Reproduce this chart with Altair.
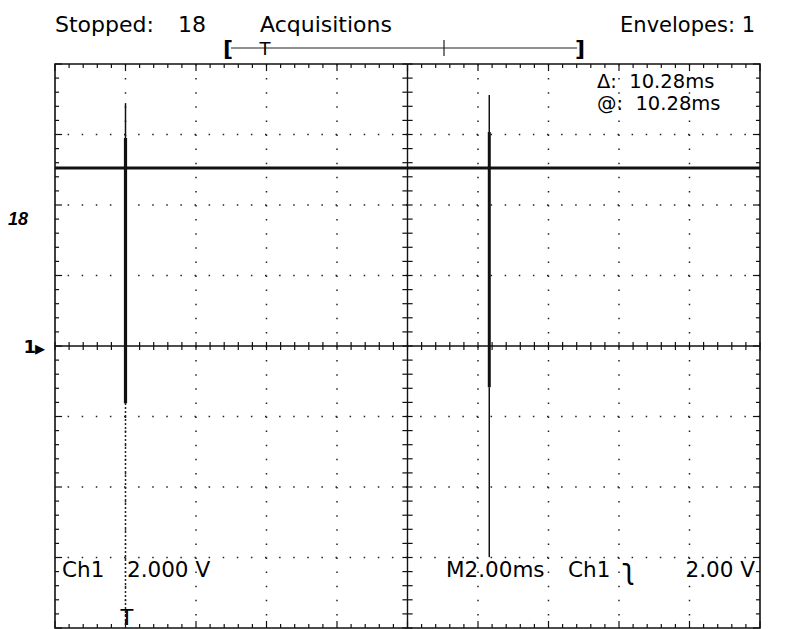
import altair as alt
import pandas as pd

# ---------------- data ----------------
# time axis: 2 ms/div, 10 divisions ; voltage axis: 2 V/div, 8 divisions
x_major = [2, 4, 6, 8, 12, 14, 16, 18]            # dotted vertical graticule (ms)
y_major = [-6, -4, -2, 2, 4, 6]                   # dotted horizontal graticule (V)
x_sub = [round(i * 0.4, 2) for i in range(51)]    # 0.2 div sub-ticks (ms)
y_sub = [round(-8 + i * 0.4, 2) for i in range(41)]  # 0.2 div sub-ticks (V)

trace_t = [0.0, 20.0]
trace_v = [5.05, 5.05]

seg_t = [2.0, 2.0, 12.32, 12.32, 12.32]
seg_top = [6.89, 5.9, 7.12, 6.07, -1.17]
seg_bot = [5.9, -1.62, 6.07, -1.17, -5.99]
seg_w = [1.5, 3.2, 1.5, 3.0, 1.5]

env_t = [2.0]
env_top = [-1.62]
env_bot = [-8.0]

NB = "\u00a0"
readout_lines = ["Δ:" + NB + NB + "10.28ms", "@:" + NB + NB + "10.28ms"]

W, H = 705, 564
xs = alt.Scale(domain=[0, 20], nice=False, zero=False)
ys = alt.Scale(domain=[-8, 8], nice=False, zero=False)

def X(f):
    return alt.X(f, type="quantitative", scale=xs, axis=None)

def Y(f):
    return alt.Y(f, type="quantitative", scale=ys, axis=None)

# dotted graticule
gx = alt.Chart(pd.DataFrame({"x": x_major})).mark_rule(
    color="#222", strokeWidth=1.5, strokeDash=[1.5, 12.6]).encode(x=X("x"))
gy = alt.Chart(pd.DataFrame({"y": y_major})).mark_rule(
    color="#222", strokeWidth=1.5, strokeDash=[1.5, 12.6]).encode(y=Y("y"))

# centre cross
cx = alt.Chart(pd.DataFrame({"x": [10]})).mark_rule(color="#111", strokeWidth=1.4).encode(x=X("x"))
cy = alt.Chart(pd.DataFrame({"y": [0]})).mark_rule(color="#111", strokeWidth=1.6).encode(y=Y("y"))

# sub-ticks (lengths in data units: 35.25 px per unit on both axes)
def is_major(v):
    return abs(v / 2 - round(v / 2)) < 1e-6

xl = [0.2 if is_major(v) else 0.115 for v in x_sub]
yl = [0.2 if is_major(v) else 0.115 for v in y_sub]

df_xt = pd.DataFrame({
    "x": x_sub,
    "c1": [-0.115] * len(x_sub), "c2": [0.115] * len(x_sub),
    "t1": [8.0] * len(x_sub), "t2": [8.0 - l for l in xl],
    "b1": [-8.0] * len(x_sub), "b2": [-8.0 + l for l in xl],
})
df_yt = pd.DataFrame({
    "y": y_sub,
    "c1": [10 - 0.145] * len(y_sub), "c2": [10 + 0.145] * len(y_sub),
    "l1": [0.0] * len(y_sub), "l2": [l for l in yl],
    "r1": [20.0] * len(y_sub), "r2": [20.0 - l for l in yl],
})

def vt(a, b):
    return alt.Chart(df_xt).mark_rule(color="#111", strokeWidth=1.2).encode(x=X("x"), y=Y(a), y2=b)

def ht(a, b):
    return alt.Chart(df_yt).mark_rule(color="#111", strokeWidth=1.2).encode(y=Y("y"), x=X(a), x2=b)

ticks = [vt("c1", "c2"), vt("t1", "t2"), vt("b1", "b2"), ht("c1", "c2"), ht("l1", "l2"), ht("r1", "r2")]

# trace
base = alt.Chart(pd.DataFrame({"t": trace_t, "v": trace_v})).mark_line(
    color="#111", strokeWidth=3.2).encode(x=X("t"), y=Y("v"))
spikes = alt.Chart(pd.DataFrame({"t": seg_t, "a": seg_top, "b": seg_bot, "w": seg_w})).mark_rule(
    color="#111").encode(x=X("t"), y=Y("a"), y2="b", size=alt.Size("w:Q", scale=None, legend=None))
env = alt.Chart(pd.DataFrame({"t": env_t, "a": env_top, "b": env_bot})).mark_rule(
    color="#222", strokeWidth=1.5, strokeDash=[2, 2]).encode(x=X("t"), y=Y("a"), y2="b")

FONT = "DejaVu Sans"

def txt(texts, px, py, size=21, align="left", font=FONT, weight="normal", style="normal", baseline="alphabetic"):
    df = pd.DataFrame({"s": texts, "px": px, "py": py})
    return alt.Chart(df).mark_text(
        align=align, baseline=baseline, fontSize=size, font=font, fontWeight=weight,
        fontStyle=style, color="#000").encode(
        x=alt.X("px:Q", scale=None, axis=None),
        y=alt.Y("py:Q", scale=None, axis=None),
        text="s:N")

top_left = txt(["Stopped:", "18", "Acquisitions"], [0, 123, 205], [-32, -32, -32], size=22)
top_right = txt(["Envelopes: 1"], [700], [-32], size=21, align="right")
readout = alt.Chart(pd.DataFrame({"px": [542], "py": [24]})).mark_text(
    text=readout_lines, align="left", baseline="alphabetic", fontSize=19.5, font=FONT,
    lineHeight=22, color="#000").encode(
    x=alt.X("px:Q", scale=None, axis=None), y=alt.Y("py:Q", scale=None, axis=None))
bottom_l = txt(["Ch1", "2.000 V", "M2.00ms", "Ch1"], [7, 72, 391, 513], [513] * 4, size=21.5)
edge = txt(["ʅ"], [567], [515], size=28)
bottom_r = txt(["2.00 V"], [700], [513], size=21.5, align="right")
trig = txt(["T"], [72], [561], size=21, align="center")
gnd = txt(["1"], [-19], [284], size=18, align="right", weight="bold", baseline="middle")
gnd_arrow = txt(["▸"], [-20], [285], size=20, baseline="middle")
side = txt(["18"], [-47], [161], size=18, font="Liberation Sans", weight="bold", style="italic")

# record-length bar
bar_line = alt.Chart(pd.DataFrame({"px": [176], "px2": [522], "py": [-16]})).mark_rule(
    color="#222", strokeWidth=1.2).encode(
    x=alt.X("px:Q", scale=None, axis=None), x2="px2", y=alt.Y("py:Q", scale=None, axis=None))
bar_tick = alt.Chart(pd.DataFrame({"px": [389], "py": [-24], "py2": [-8]})).mark_rule(
    color="#222", strokeWidth=1.2).encode(
    x=alt.X("px:Q", scale=None, axis=None), y=alt.Y("py:Q", scale=None, axis=None), y2="py2")
brackets = txt(["[", "]"], [173, 525], [-15, -15], size=22, align="center", weight="bold", baseline="middle")
bar_t = txt(["T"], [210], [-14], size=18, align="center", baseline="middle")

chart = alt.layer(
    gx, gy, cx, cy, *ticks,
    env, base, spikes,
    top_left, top_right, readout, bottom_l, edge, bottom_r, trig, gnd, gnd_arrow, side,
    bar_line, bar_tick, brackets, bar_t,
).properties(
    width=W, height=H,
    padding={"left": 47, "top": 56, "right": 20, "bottom": 1},
    autosize=alt.AutoSizeParams(type="none"),
    background="white",
).configure_view(stroke="#111", strokeWidth=1.6)

chart.save("out.html", embed_options={"renderer": "svg", "actions": False})
